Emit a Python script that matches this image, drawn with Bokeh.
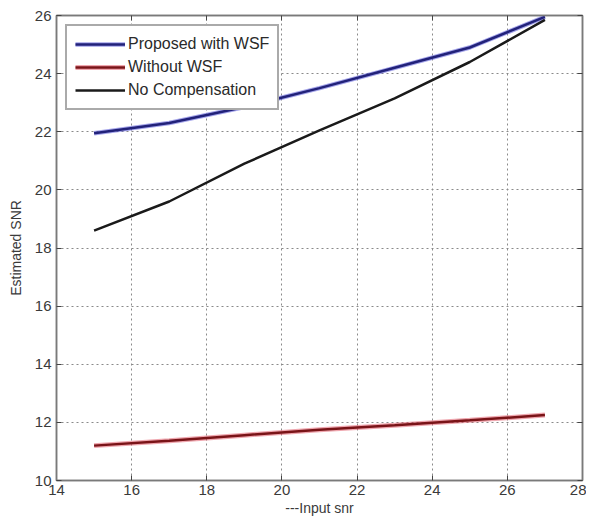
from bokeh.plotting import figure
from bokeh.models import LinearAxis, Legend, LegendItem, FixedTicker, Range1d
from bokeh.embed import file_html
from bokeh.resources import INLINE

# data
x_snr = [15, 17, 19, 21, 23, 25, 27]
proposed_wsf = [21.95, 22.3, 22.85, 23.5, 24.2, 24.9, 25.95]
without_wsf = [11.2, 11.37, 11.56, 11.75, 11.9, 12.07, 12.25]
no_compensation = [18.6, 19.6, 20.9, 22.05, 23.15, 24.4, 25.85]
x_ticks = [14, 16, 18, 20, 22, 24, 26, 28]
y_ticks = [10, 12, 14, 16, 18, 20, 22, 24, 26]

FONT = "Liberation Sans"

p = figure(width=586, height=518, output_backend="svg", toolbar_location=None,
           x_range=Range1d(14, 28), y_range=Range1d(10, 26),
           min_border_left=56, min_border_right=4, min_border_top=15, min_border_bottom=38)

p.background_fill_color = "white"
p.border_fill_color = "white"
p.outline_line_color = "#7a7a7a"
p.outline_line_width = 1.5

for ax, ticks in ((p.xaxis[0], x_ticks), (p.yaxis[0], y_ticks)):
    ax.ticker = FixedTicker(ticks=ticks)
    ax.major_tick_in = 5
    ax.major_tick_out = 0
    ax.minor_tick_line_color = None
    ax.axis_line_color = "#7a7a7a"
    ax.axis_line_width = 1.5
    ax.major_tick_line_color = "#444444"
    ax.major_label_text_font = FONT
    ax.major_label_text_font_size = "15px"
    ax.major_label_text_color = "#3a3a3a"
    ax.axis_label_text_font = FONT
    ax.axis_label_text_font_size = "14px"
    ax.axis_label_text_font_style = "normal"
    ax.axis_label_text_color = "#3a3a3a"

p.xaxis.axis_label = "---Input snr"
p.yaxis.axis_label = "Estimated SNR"
p.xaxis.major_label_standoff = 4
p.xaxis.axis_label_standoff = 2
p.yaxis.major_label_standoff = 5
p.yaxis.axis_label_standoff = 8

for loc, ticks in (("right", y_ticks), ("above", x_ticks)):
    a = LinearAxis(ticker=FixedTicker(ticks=ticks),
                   major_label_overrides={t: "" for t in ticks},
                   major_label_standoff=0,
                   major_tick_in=5, major_tick_out=0, minor_tick_line_color=None,
                   axis_line_color="#7a7a7a", axis_line_width=1.5,
                   major_tick_line_color="#444444")
    p.add_layout(a, loc)

p.xgrid.ticker = FixedTicker(ticks=x_ticks)
p.ygrid.ticker = FixedTicker(ticks=y_ticks)
for g in (p.xgrid[0], p.ygrid[0]):
    g.grid_line_color = "#8a8a8a"
    g.grid_line_dash = "2 3"
    g.grid_line_width = 1

b1 = p.line(x_snr, proposed_wsf, line_color="#5a5ad8", line_width=4.5, line_alpha=0.55)
b2 = p.line(x_snr, proposed_wsf, line_color="#22227a", line_width=2.5)
r1 = p.line(x_snr, without_wsf, line_color="#e05060", line_width=5, line_alpha=0.5)
r2 = p.line(x_snr, without_wsf, line_color="#7a1418", line_width=2.5)
k1 = p.line(x_snr, no_compensation, line_color="#1a1a1a", line_width=2.5)

legend = Legend(items=[
    LegendItem(label="Proposed with WSF", renderers=[b1, b2]),
    LegendItem(label="Without WSF", renderers=[r1, r2]),
    LegendItem(label="No Compensation", renderers=[k1]),
], location="top_left")
legend.margin = 9
legend.padding = 8
legend.spacing = 3
legend.label_standoff = 3
legend.glyph_width = 50
legend.glyph_height = 20
legend.label_height = 20
legend.label_text_font = FONT
legend.label_text_font_size = "16px"
legend.label_text_color = "#2a2a2a"
legend.border_line_color = "#555555"
legend.border_line_width = 2
legend.background_fill_color = "white"
legend.background_fill_alpha = 1
p.add_layout(legend)

open("out.html", "w").write(file_html(p, INLINE))
